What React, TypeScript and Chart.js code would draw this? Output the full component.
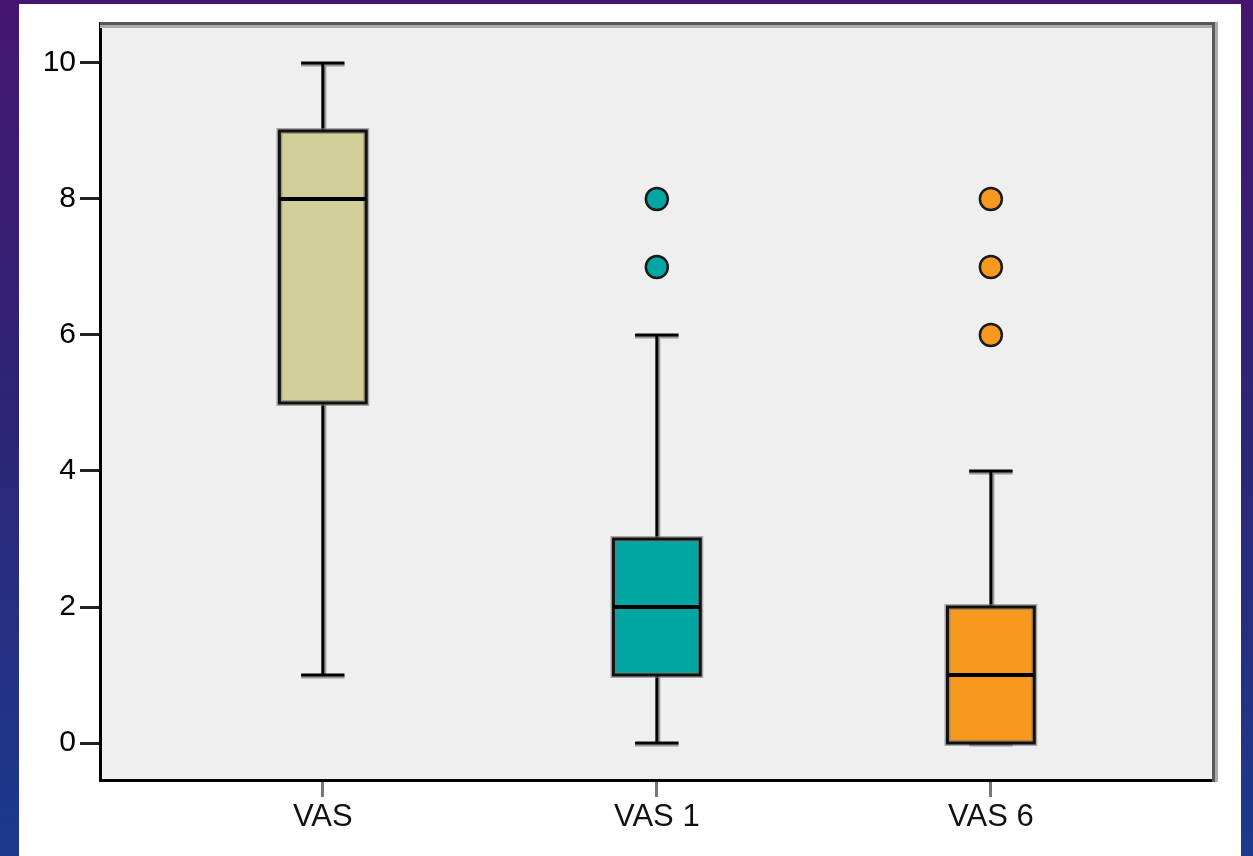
import React, { useEffect, useRef } from "react";
import { Chart, registerables } from "chart.js";

Chart.register(...registerables);

const categories = ["VAS", "VAS 1", "VAS 6"];
const whiskerLow = [1, 0, 0];
const q1 = [5, 1, 0];
const median = [8, 2, 1];
const q3 = [9, 3, 2];
const whiskerHigh = [10, 6, 4];
const outliers: number[][] = [[], [7, 8], [6, 7, 8]];
const boxColors = ["#d3cf99", "#00a6a2", "#f8991f"];
const yTickValues = [0, 2, 4, 6, 8, 10];

const FONT = '"Liberation Sans", Arial, sans-serif';
const BOX_HALF = 0.13;
const CAP_HALF = 0.065;

const boxPlugin = {
  id: "boxes",
  beforeDraw(chart: any) {
    const { ctx, chartArea } = chart;
    ctx.save();
    ctx.fillStyle = "#efefef";
    ctx.fillRect(chartArea.left, chartArea.top, chartArea.right - chartArea.left, chartArea.bottom - chartArea.top);
    ctx.restore();
  },
  beforeDatasetsDraw(chart: any) {
    const { ctx } = chart;
    const x = chart.scales.x;
    const y = chart.scales.y;
    ctx.save();
    categories.forEach((_c, i) => {
      const xc = x.getPixelForValue(i + 1);
      const xl = x.getPixelForValue(i + 1 - BOX_HALF);
      const xr = x.getPixelForValue(i + 1 + BOX_HALF);
      const cl = x.getPixelForValue(i + 1 - CAP_HALF);
      const cr = x.getPixelForValue(i + 1 + CAP_HALF);
      const yLo = y.getPixelForValue(whiskerLow[i]);
      const yHi = y.getPixelForValue(whiskerHigh[i]);
      const yQ1 = y.getPixelForValue(q1[i]);
      const yQ3 = y.getPixelForValue(q3[i]);
      const yMed = y.getPixelForValue(median[i]);

      ctx.lineCap = "butt";
      ctx.strokeStyle = "#9a9a9a";
      ctx.lineWidth = 3;
      ctx.beginPath();
      ctx.moveTo(xc + 2, yHi);
      ctx.lineTo(xc + 2, yQ3);
      ctx.moveTo(xc + 2, yQ1);
      ctx.lineTo(xc + 2, yLo);
      ctx.moveTo(cl, yHi + 2);
      ctx.lineTo(cr, yHi + 2);
      ctx.moveTo(cl, yLo + 2);
      ctx.lineTo(cr, yLo + 2);
      ctx.stroke();

      ctx.strokeStyle = "#000";
      ctx.lineWidth = 3;
      ctx.beginPath();
      ctx.moveTo(xc, yHi);
      ctx.lineTo(xc, yQ3);
      ctx.moveTo(xc, yQ1);
      ctx.lineTo(xc, yLo);
      ctx.moveTo(cl, yHi);
      ctx.lineTo(cr, yHi);
      ctx.moveTo(cl, yLo);
      ctx.lineTo(cr, yLo);
      ctx.stroke();

      ctx.fillStyle = boxColors[i];
      ctx.fillRect(xl, yQ3, xr - xl, yQ1 - yQ3);
      ctx.strokeStyle = "rgba(120,120,120,0.6)";
      ctx.lineWidth = 6;
      ctx.strokeRect(xl, yQ3, xr - xl, yQ1 - yQ3);
      ctx.strokeStyle = "#111";
      ctx.lineWidth = 3;
      ctx.strokeRect(xl, yQ3, xr - xl, yQ1 - yQ3);

      ctx.strokeStyle = "#000";
      ctx.lineWidth = 4;
      ctx.beginPath();
      ctx.moveTo(xl, yMed);
      ctx.lineTo(xr, yMed);
      ctx.stroke();
    });
    ctx.restore();
  },
  afterDraw(chart: any) {
    const { ctx, chartArea } = chart;
    ctx.save();
    ctx.fillStyle = "#555";
    ctx.fillRect(chartArea.left, chartArea.top - 1, chartArea.right - chartArea.left + 4, 3);
    ctx.fillStyle = "#ababab";
    ctx.fillRect(chartArea.left, chartArea.top + 2, chartArea.right - chartArea.left, 3);
    ctx.fillStyle = "#5a5a5a";
    ctx.fillRect(chartArea.right - 1, chartArea.top - 1, 3, chartArea.bottom - chartArea.top + 3);
    ctx.fillStyle = "#ababab";
    ctx.fillRect(chartArea.right + 2, chartArea.top - 1, 3, chartArea.bottom - chartArea.top + 3);
    ctx.restore();
  },
};

export default function App() {
  const canvasRef = useRef<HTMLCanvasElement | null>(null);

  useEffect(() => {
    if (!canvasRef.current) return;
    const datasets = categories.map((c, i) => ({
      label: c,
      data: outliers[i].map((v) => ({ x: i + 1, y: v })),
      pointRadius: 11,
      pointBackgroundColor: boxColors[i],
      pointBorderColor: "#1a1a1a",
      pointBorderWidth: 2.5,
      showLine: false,
    }));
    const chart = new Chart(canvasRef.current, {
      type: "scatter",
      data: { datasets },
      plugins: [boxPlugin],
      options: {
        animation: false,
        responsive: false,
        events: [],
        layout: { padding: { top: 19, right: 28, left: 0, bottom: 0 } },
        plugins: { legend: { display: false }, tooltip: { enabled: false } },
        scales: {
          x: {
            type: "linear",
            min: 0.333,
            max: 3.665,
            afterFit: (scale: any) => {
              scale.height = 76;
              scale.paddingLeft = 0;
              scale.paddingRight = 0;
            },
            afterBuildTicks: (scale: any) => {
              scale.ticks = categories.map((_c, i) => ({ value: i + 1 }));
            },
            grid: {
              drawOnChartArea: false,
              drawTicks: true,
              tickLength: 17,
              color: "#777",
              lineWidth: 3,
            },
            border: { display: true, color: "#000", width: 3 },
            ticks: {
              padding: 2,
              color: "#111",
              font: { family: FONT, size: 31 },
              autoSkip: false,
              maxRotation: 0,
              callback: (v: any) => categories[Math.round(Number(v)) - 1] ?? "",
            },
          },
          y: {
            type: "linear",
            min: -0.544,
            max: 10.588,
            afterFit: (scale: any) => {
              scale.width = 81;
              scale.paddingTop = 0;
              scale.paddingBottom = 0;
            },
            afterBuildTicks: (scale: any) => {
              scale.ticks = yTickValues.map((v) => ({ value: v }));
            },
            grid: {
              drawOnChartArea: false,
              drawTicks: true,
              tickLength: 20,
              color: "#222",
              lineWidth: 3,
            },
            border: { display: true, color: "#000", width: 3 },
            ticks: {
              padding: 4,
              color: "#000",
              font: { family: FONT, size: 30 },
              callback: (v: any) => String(v),
            },
          },
        },
      },
    } as any);
    return () => chart.destroy();
  }, []);

  return (
    <div
      style={{
        position: "fixed",
        inset: 0,
        background: "linear-gradient(to bottom, #45166f 0%, #2f2476 45%, #1c3a8d 100%)",
        overflow: "hidden",
      }}
    >
      <div
        style={{
          position: "absolute",
          left: 19,
          top: 4,
          width: 1222,
          height: 852,
          background: "#fff",
        }}
      >
        <canvas ref={canvasRef} width={1222} height={852} style={{ display: "block" }} />
      </div>
    </div>
  );
}
